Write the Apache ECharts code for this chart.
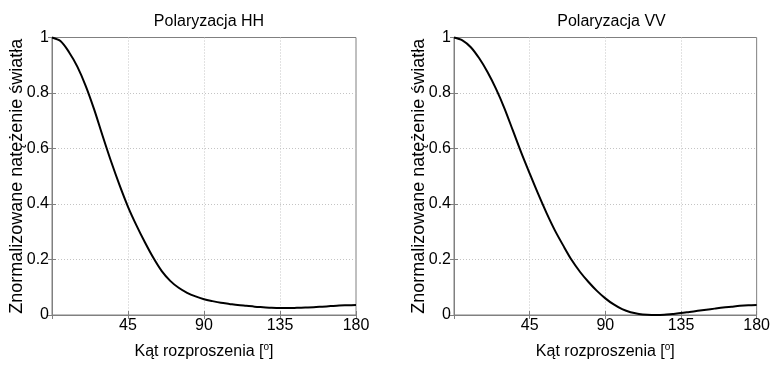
<!DOCTYPE html>
<html>
<head>
<meta charset="utf-8">
<script src="https://cdn.jsdelivr.net/npm/echarts@6/dist/echarts.min.js"></script>
<style>
html,body{margin:0;padding:0;background:#fff;}
#chart{width:773px;height:366px;}
</style>
</head>
<body>
<div id="chart"></div>
<script>
// Scattering angle (degrees)
const angles = [0,5,10,15,20,25,30,35,40,45,50,55,60,65,70,75,80,85,90,95,100,105,110,115,120,125,130,135,140,145,150,155,160,165,170,175,180];
// Normalized light intensity, HH polarization
const hhValues = [1.000,0.987,0.948,0.895,0.825,0.740,0.645,0.553,0.468,0.390,0.323,0.262,0.206,0.158,0.123,0.098,0.080,0.067,0.057,0.050,0.044,0.040,0.036,0.033,0.030,0.028,0.026,0.025,0.025,0.026,0.027,0.028,0.030,0.032,0.034,0.035,0.036];
// Normalized light intensity, VV polarization
const vvValues = [1.000,0.990,0.965,0.925,0.875,0.815,0.745,0.665,0.585,0.510,0.437,0.368,0.305,0.250,0.198,0.155,0.119,0.087,0.060,0.038,0.021,0.010,0.004,0.001,0.000,0.001,0.004,0.007,0.011,0.015,0.019,0.023,0.027,0.030,0.033,0.035,0.036];
const xTickLabels = [45, 90, 135, 180];
const yTickLabels = [0, 0.2, 0.4, 0.6, 0.8, 1];
const titles = ['Polaryzacja HH', 'Polaryzacja VV'];
const xName = 'Kąt rozproszenia [';
const yName = 'Znormalizowane natężenie światła';

const FONT = '"Liberation Sans", Arial, sans-serif';
const FS = 16;
const AXIS_COLOR = '#808080';
const GRID_COLOR = '#c4c4c4';
const grids = [
  {left: 52, top: 37.5, width: 304, height: 283.5},
  {left: 454, top: 37.5, width: 305, height: 283.5}
];

function pairs(vals){ return angles.map((a,i)=>[a, vals[i]]); }

const option = {
  animation: false,
  backgroundColor: '#fff',
  title: grids.map((g,i)=>({
    text: titles[i],
    left: g.left + g.width/2,
    top: 9,
    textAlign: 'center',
    textStyle: {fontFamily: FONT, fontSize: FS, fontWeight: 'normal', color: '#000'}
  })),
  grid: grids.map(g=>Object.assign({show: true, borderColor: AXIS_COLOR, borderWidth: 1, backgroundColor: '#fff', containLabel: false}, g)),
  xAxis: [],
  yAxis: [],
  series: []
};

grids.forEach((g,i)=>{
  option.xAxis.push({
    type: 'value', gridIndex: i, min: 0, max: 180, interval: 45, position: 'bottom',
    name: '{a|' + xName + '}{s|o}{a|]}',
    nameLocation: 'middle', nameGap: 27, nameMoveOverlap: false,
    nameTextStyle: {rich: {
      a: {fontFamily: FONT, fontSize: FS, color: '#000', verticalAlign: 'bottom', lineHeight: 18},
      s: {fontFamily: FONT, fontSize: 10, color: '#000', verticalAlign: 'top', lineHeight: 18, padding: [0,0,9,0]}
    }},
    axisLine: {show: true, lineStyle: {color: AXIS_COLOR, width: 1}},
    axisTick: {show: true, inside: true, length: 4, lineStyle: {color: AXIS_COLOR}},
    axisLabel: {show: true, margin: 3, fontFamily: FONT, fontSize: FS, color: '#000',
      formatter: v => xTickLabels.indexOf(v) >= 0 ? String(v) : ''},
    splitLine: {show: true, showMinLine: false, showMaxLine: false, lineStyle: {color: GRID_COLOR, type: [1,2], width: 1}}
  });
  option.xAxis.push({
    type: 'value', gridIndex: i, min: 0, max: 180, interval: 45, position: 'top',
    axisLine: {show: true, lineStyle: {color: AXIS_COLOR, width: 1}},
    axisTick: {show: true, inside: true, length: 4, lineStyle: {color: AXIS_COLOR}},
    axisLabel: {show: false}, splitLine: {show: false}
  });
  option.yAxis.push({
    type: 'value', gridIndex: i, min: 0, max: 1, interval: 0.2, position: 'left',
    name: yName, nameLocation: 'middle', nameGap: 26, nameMoveOverlap: false,
    nameTextStyle: {fontFamily: FONT, fontSize: 18, color: '#000'},
    axisLine: {show: true, lineStyle: {color: AXIS_COLOR, width: 1}},
    axisTick: {show: true, inside: true, length: 4, lineStyle: {color: AXIS_COLOR}},
    axisLabel: {show: true, margin: 3, fontFamily: FONT, fontSize: FS, color: '#000',
      formatter: v => { const m = yTickLabels.find(t => Math.abs(t - v) < 1e-9); return m === undefined ? '' : String(m); }},
    splitLine: {show: true, showMinLine: false, showMaxLine: false, lineStyle: {color: GRID_COLOR, type: [1,2], width: 1}}
  });
  option.yAxis.push({
    type: 'value', gridIndex: i, min: 0, max: 1, interval: 0.2, position: 'right',
    axisLine: {show: true, lineStyle: {color: AXIS_COLOR, width: 1}},
    axisTick: {show: true, inside: true, length: 4, lineStyle: {color: AXIS_COLOR}},
    axisLabel: {show: false}, splitLine: {show: false}
  });
  option.series.push({
    type: 'line', xAxisIndex: i*2, yAxisIndex: i*2,
    data: pairs(i === 0 ? hhValues : vvValues),
    smooth: 0.3, showSymbol: false, clip: false,
    lineStyle: {color: '#000', width: 2}
  });
});

const chart = echarts.init(document.getElementById('chart'), null, {renderer: 'canvas'});
chart.setOption(option);
</script>
</body>
</html>
